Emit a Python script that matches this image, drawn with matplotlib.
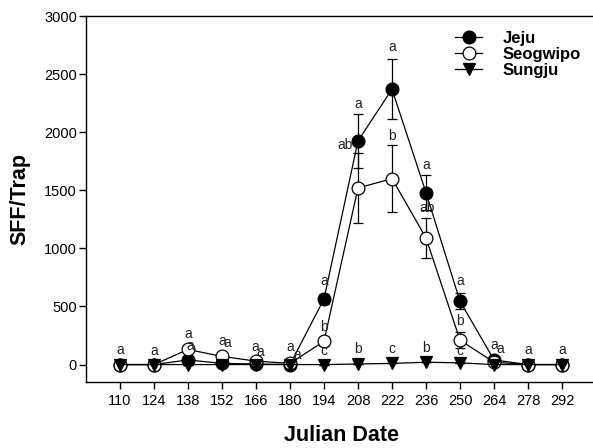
import matplotlib
matplotlib.use('Agg')
import matplotlib.pyplot as plt
from matplotlib.lines import Line2D

plt.rcParams['font.family'] = ['Liberation Sans', 'DejaVu Sans']

# datos
dias = [110, 124, 138, 152, 166, 180, 194, 208, 222, 236, 250, 264, 278, 292]
jeju = [0, 0, 40, 10, 5, 0, 565, 1925, 2370, 1480, 545, 40, 0, 0]
jeju_err = [0, 0, 15, 10, 5, 0, 40, 235, 260, 150, 70, 20, 0, 0]
seogwipo = [0, 0, 130, 70, 30, 10, 200, 1520, 1600, 1090, 210, 20, 0, 0]
seogwipo_err = [0, 0, 20, 15, 5, 5, 40, 300, 290, 175, 70, 10, 0, 0]
sungju = [0, 0, 0, 0, 0, 0, 0, 5, 10, 20, 15, 0, 0, 0]
sungju_err = [0] * 14

# letras de significancia: (serie, indice, texto, dx px, dy px)
letras = [
    ('J', 0, 'a', 0, 13), ('J', 1, 'a', 0, 12),
    ('S', 2, 'a', 0, 11.5), ('J', 2, 'a', 2, 10.6),
    ('S', 3, 'a', 0, 12), ('J', 3, 'a', 5, 17.7),
    ('S', 4, 'a', -1, 12), ('J', 4, 'a', 4, 9),
    ('S', 5, 'a', 0, 14), ('J', 5, 'a', 7, 8),
    ('J', 6, 'a', 0, 11.6), ('S', 6, 'b', 0, 8), ('U', 6, 'c', 0, 12),
    ('J', 7, 'a', 0, 7.6), ('S', 7, 'ab', -13, 6), ('U', 7, 'b', 0, 13.4),
    ('J', 8, 'a', 0, 10), ('S', 8, 'b', 0, 7), ('U', 8, 'c', 0, 12.8),
    ('J', 9, 'a', 0, 8.3), ('S', 9, 'ab', 1, 7.8), ('U', 9, 'b', 0, 12.7),
    ('J', 10, 'a', 0, 10.4), ('S', 10, 'b', 0, 9.4), ('U', 10, 'c', 0, 10.3),
    ('J', 11, 'a', 0, 11), ('S', 11, 'a', 6, 10.5),
    ('J', 12, 'a', 0, 13), ('J', 13, 'a', 0, 13),
]

fig = plt.figure(figsize=(5.93, 4.48), dpi=100)
ax = fig.add_axes([86 / 593., 66 / 448., 510 / 593., 366 / 448.])

estilo = dict(color='black', lw=0.9, markersize=9.2, markeredgewidth=0.9,
              markeredgecolor='black')
barras = dict(capsize=3.6, elinewidth=0.9, capthick=0.9)
ax.errorbar(dias, jeju, yerr=jeju_err, marker='o', markerfacecolor='black',
            **estilo, **barras)
ax.errorbar(dias, seogwipo, yerr=seogwipo_err, marker='o',
            markerfacecolor='white', **estilo, **barras)
ax.errorbar(dias, sungju, yerr=sungju_err, marker='v',
            markerfacecolor='black', **estilo, **barras)

series = {'J': (jeju, jeju_err), 'S': (seogwipo, seogwipo_err),
          'U': (sungju, sungju_err)}
for s, i, txt, dx, dy in letras:
    v, e = series[s]
    ax.annotate(txt, (dias[i], v[i] + e[i]), xytext=(dx, dy + 2),
                textcoords='offset pixels', ha='center', va='center',
                fontsize=10, color='#222222')

ax.set_xlim(96, 306)
ax.set_ylim(-150, 3000)
ax.set_xticks(dias)
ax.set_yticks([0, 500, 1000, 1500, 2000, 2500, 3000])
ax.tick_params(axis='both', direction='out', length=5, width=1,
               labelsize=10.5)
ax.tick_params(axis='y', pad=1.5)
ax.tick_params(axis='x', pad=3.5)
for sp in ax.spines.values():
    sp.set_linewidth(1)
ax.spines['right'].set_visible(False)

ax.set_xlabel('Julian Date', fontsize=15.5, fontweight='bold')
ax.set_ylabel('SFF/Trap', fontsize=15.5, fontweight='bold')
ax.xaxis.set_label_coords(0.5, -0.145)
ax.yaxis.set_label_coords(-0.129, 0.5)
ax.xaxis.label.set_va('center')
ax.yaxis.label.set_va('center')

manejadores = [
    Line2D([], [], marker='o', markerfacecolor='black', **estilo),
    Line2D([], [], marker='o', markerfacecolor='white', **estilo),
    Line2D([], [], marker='v', markerfacecolor='black', **estilo),
]
ax.legend(manejadores, ['Jeju', 'Seogwipo', 'Sungju'],
          loc='upper left', bbox_to_anchor=(447 / 593., 1 - 23 / 448.),
          bbox_transform=fig.transFigure, frameon=False, borderpad=0,
          handlelength=1.62, handletextpad=1.2, labelspacing=0.05,
          prop={'weight': 'bold', 'size': 12})

fig.savefig('out.png', dpi=100)
plt.close('all')
